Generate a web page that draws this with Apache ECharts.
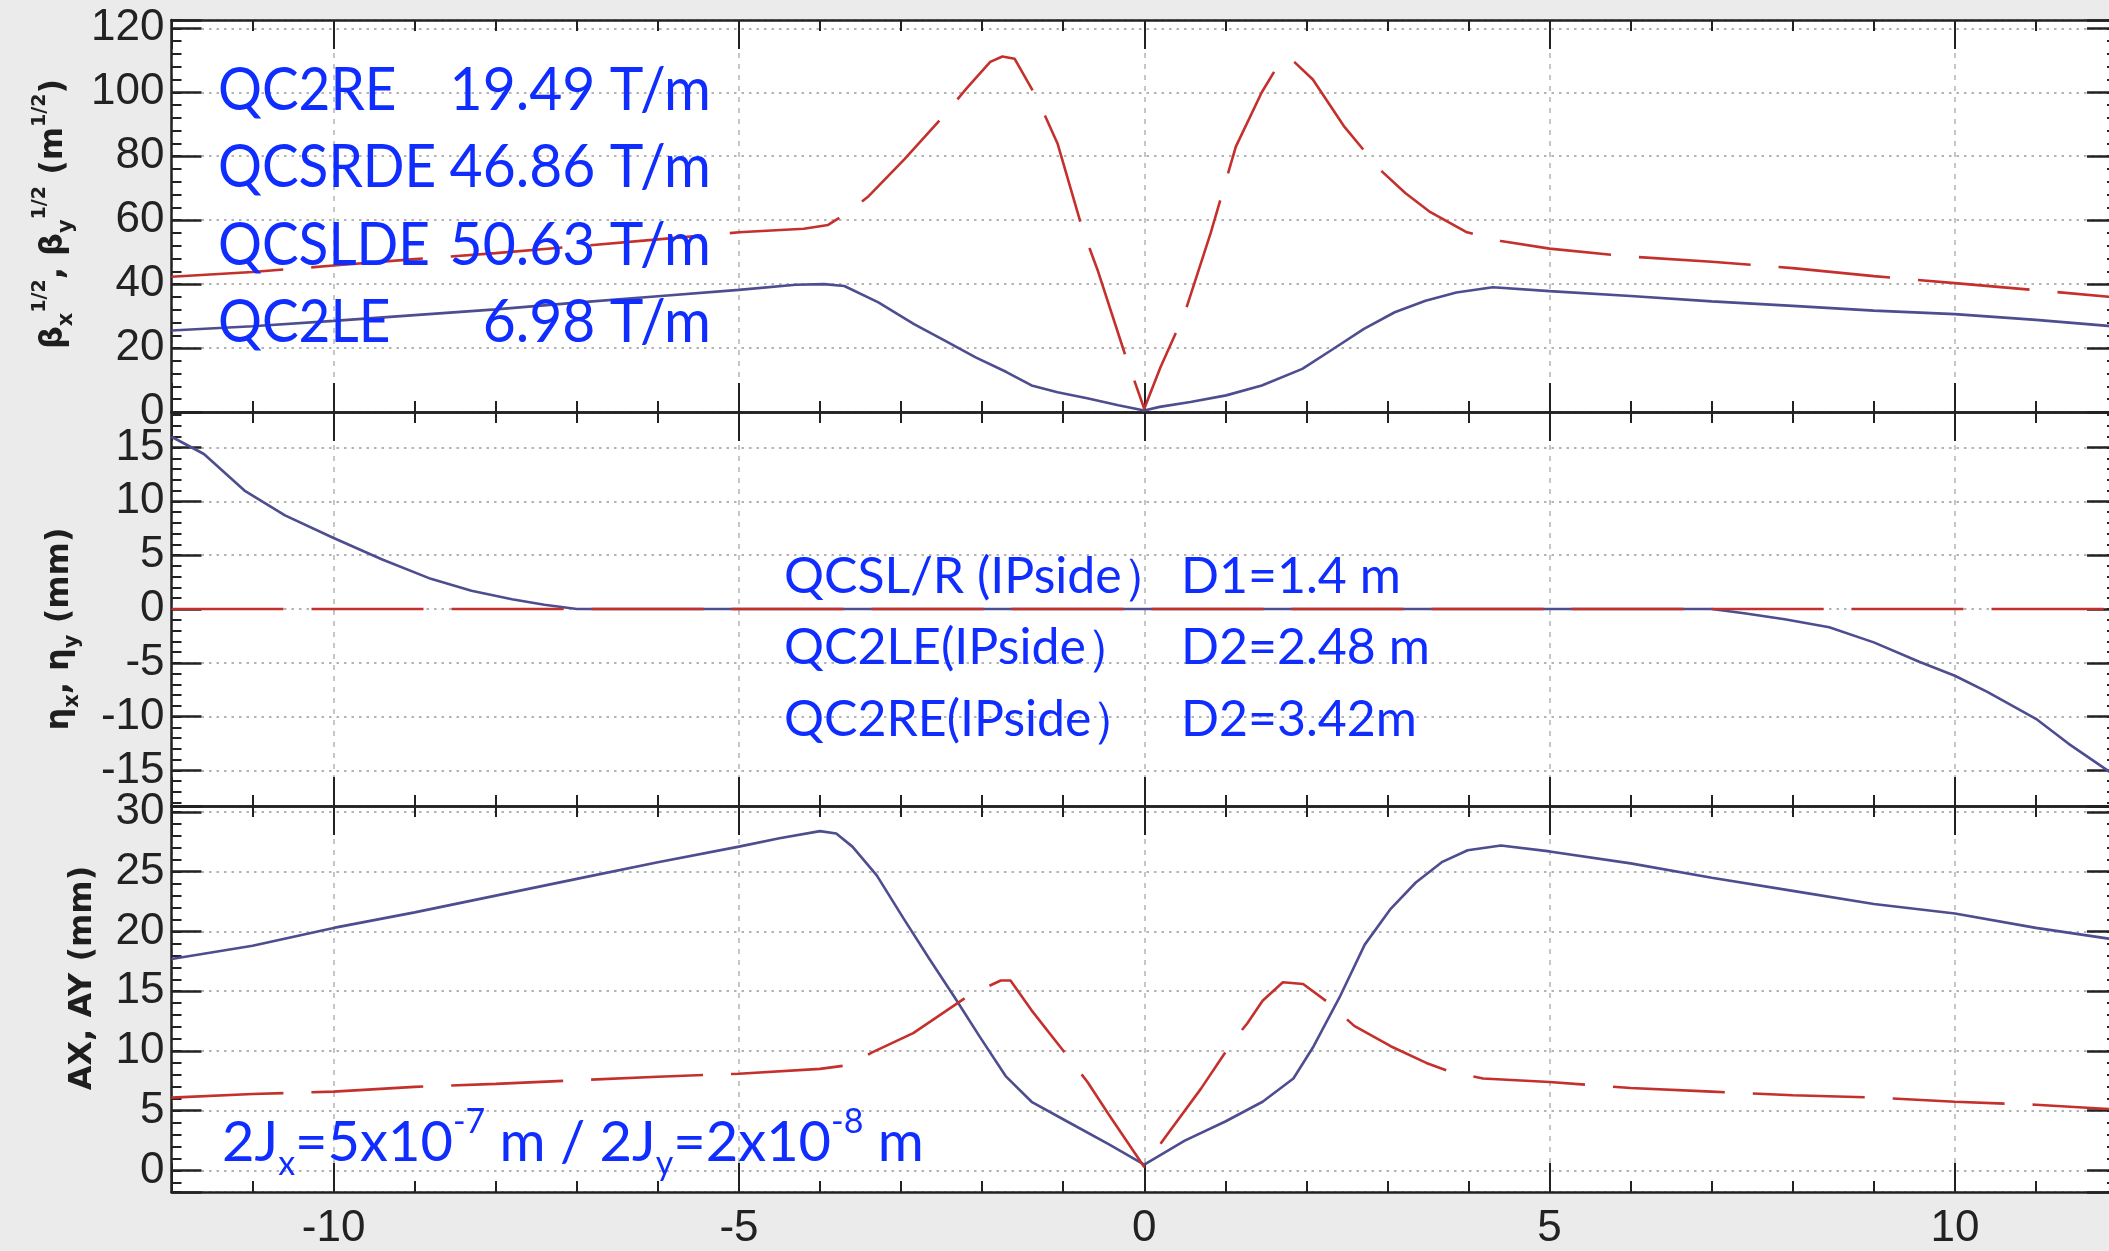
<!DOCTYPE html>
<html><head><meta charset="utf-8">
<script src="https://cdn.jsdelivr.net/npm/echarts@6/dist/echarts.min.js"></script>
<style>html,body{margin:0;padding:0;background:#ebebeb;overflow:hidden}#c{width:2120px;height:1251px}</style>
</head><body><div id="c"></div>
<script>
// ---------- data (s in m) ----------
const betaX_s = [-12,-11,-10,-9,-8,-7,-6,-5,-4.3,-3.95,-3.7,-3.28,-2.84,-2.46,-2.08,-1.7,-1.39,-1.07,-0.69,-0.32,0,0.19,0.57,1.01,1.45,1.95,2.33,2.71,3.09,3.47,3.85,4.3,5,6,7,8,9,10,11,12];
const betaX_v = [25.5,26.8,28.5,30.3,32.1,34.2,36.2,38.2,39.8,40.0,39.4,34.3,27.5,22.3,17.1,12.5,8.3,6.2,4.2,2.1,0.5,1.6,3.1,5.2,8.3,13.5,19.7,26,31.2,34.8,37.4,39.0,37.8,36.3,34.6,33.2,31.7,30.6,28.8,26.7];
const betaY_s = [-12,-11,-10,-9,-8,-7,-6,-5,-4.2,-3.9,-3.66,-3.4,-2.96,-2.46,-2.2,-1.9,-1.75,-1.6,-1.32,-1.07,-0.76,-0.57,-0.25,0,0.2,0.5,0.82,1.13,1.45,1.7,1.85,2.08,2.46,2.9,3.22,3.53,3.97,4.4,5,6,7,8,9,10,11,12];
const betaY_v = [42.3,43.8,45.8,47.8,49.7,51.8,54.0,56.2,57.3,58.5,62.3,67.5,79,93,101,109.5,111.2,110.5,98,84,57,44,19,1,14,31,56,83,100,110.5,109.5,104,89.5,76,68.5,62.5,56.3,53.5,51.1,48.6,47,45,42.5,40.3,38.1,35.8];
const etaX_s = [-12,-11.6,-11.1,-10.6,-10,-9.4,-8.8,-8.3,-7.8,-7.4,-7,0,7,7.4,7.9,8.45,9.0,9.56,10,10.4,11,11.4,12];
const etaX_v = [16.0,14.4,11.0,8.7,6.6,4.6,2.8,1.7,0.9,0.4,0,0,0,-0.4,-0.95,-1.7,-3.1,-4.9,-6.2,-7.7,-10.2,-12.5,-15.6];
const etaY_s = [-12,0,12];
const etaY_v = [0,0,0];
const ax_s = [-12,-11,-10,-9,-8,-7,-6,-5,-4.5,-4.0,-3.8,-3.6,-3.3,-2.97,-2.66,-2.34,-2.03,-1.71,-1.39,-0.95,-0.44,0,0.5,1.0,1.46,1.84,2.09,2.41,2.72,3.04,3.35,3.67,3.99,4.4,5,6,7,8,9,10,11,12];
const ax_v = [17.7,18.8,20.3,21.6,23.0,24.4,25.8,27.1,27.8,28.4,28.2,27.1,24.7,21.1,17.8,14.5,11.2,7.9,5.75,4.1,2.2,0.5,2.5,4.1,5.75,7.7,10.4,14.5,18.9,21.9,24.1,25.8,26.8,27.2,26.7,25.7,24.5,23.4,22.3,21.5,20.3,19.3];
const ay_s = [-12,-11,-10,-9,-8,-7,-6,-5,-4,-3.67,-3.35,-2.85,-2.15,-1.77,-1.65,-1.39,-0.95,-0.7,-0.44,0,0.25,0.7,1.08,1.27,1.46,1.71,1.96,2.28,2.59,3.04,3.48,3.8,4.18,5,6,7,8,9,10,11,12];
const ay_v = [6.1,6.4,6.6,7.0,7.25,7.55,7.85,8.1,8.5,8.8,9.9,11.5,14.7,15.9,15.9,13.4,9.6,7.4,4.7,0.3,2.7,6.85,10.7,12.3,14.2,15.75,15.6,14.0,12.1,10.4,9.0,8.2,7.7,7.4,6.9,6.6,6.3,6.1,5.75,5.5,5.1];

// axes: [min, max, major interval, minor interval]
const xRange = [-12, 12, 5, 1];
const yRanges = [[0, 122.6, 20, 4], [-18.3, 18.3, 5, 1], [-1.8, 30.5, 5, 1]];
const xTickLabels = [-10, -5, 0, 5, 10];

// annotation texts
const magnetNames = ['QC2RE', 'QCSRDE', 'QCSLDE', 'QC2LE'];
const magnetGrad = ['19.49 T/m', '46.86 T/m', '50.63 T/m', '6.98 T/m'];
const distNames = ['QCSL/R (IPside）', 'QC2LE(IPside）', 'QC2RE(IPside）'];
const distVals = ['D1=1.4 m', 'D2=2.48 m', 'D2=3.42m'];

// ---------- layout / style ----------
const grids = [
  {left: 171.5, top: 20, width: 1945.5, height: 392},
  {left: 171.5, top: 412, width: 1945.5, height: 394},
  {left: 171.5, top: 806, width: 1945.5, height: 393}
];
const AXC = '#222';
const BLUE = '#4d4d90';
const RED = '#c4302c';
const TXT = '#0f2dff';
const LBL = {fontFamily: 'Liberation Sans', fontSize: 44, color: '#222'};

function isMult(v, iv) { return Math.abs(v / iv - Math.round(v / iv)) < 1e-6; }

function xAxesFor(g, labels) {
  const base = {type: 'value', gridIndex: g, min: xRange[0], max: xRange[1], splitNumber: 5};
  const major = (pos, withLabels, split) => Object.assign({}, base, {
    position: pos, minInterval: xRange[2], maxInterval: xRange[2],
    axisLine: {show: true, onZero: false, lineStyle: {color: AXC, width: 2.5}},
    axisTick: {show: true, inside: true, length: 29, lineStyle: {color: AXC, width: 2}},
    axisLabel: withLabels ? Object.assign({show: true, margin: 15,
      formatter: v => (xTickLabels.indexOf(Math.round(v)) >= 0 && isMult(v, xRange[2])) ? String(v) : ''}, LBL) : {show: false},
    splitLine: {show: split, lineStyle: {color: '#b4b4b4', width: 1.5, type: [5, 6]}}
  });
  const minor = pos => Object.assign({}, base, {
    position: pos, minInterval: xRange[3], maxInterval: xRange[3],
    axisLine: {show: false, onZero: false},
    axisTick: {show: true, inside: true, length: 11, lineStyle: {color: AXC, width: 2}},
    axisLabel: {show: false}, splitLine: {show: false}
  });
  return [major('bottom', labels, true), minor('bottom'), major('top', false, false), minor('top')];
}
function yAxesFor(g) {
  const r = yRanges[g];
  const base = {type: 'value', gridIndex: g, min: r[0], max: r[1], splitNumber: 6};
  const major = (pos, withLabels, split) => Object.assign({}, base, {
    position: pos, minInterval: r[2], maxInterval: r[2],
    axisLine: {show: true, onZero: false, lineStyle: {color: AXC, width: 2.5}},
    axisTick: {show: true, inside: true, length: 30, lineStyle: {color: AXC, width: 2.5}},
    axisLabel: withLabels ? Object.assign({show: true, margin: 7,
      formatter: v => isMult(v, r[2]) ? String(Math.round(v)) : ''}, LBL) : {show: false},
    splitLine: {show: split, lineStyle: {color: '#b4b4b4', width: 1.8, type: [2.5, 5]}}
  });
  const minor = pos => Object.assign({}, base, {
    position: pos, minInterval: r[3], maxInterval: r[3],
    axisLine: {show: false, onZero: false},
    axisTick: {show: true, inside: true, length: 10, lineStyle: {color: AXC, width: 2}},
    axisLabel: {show: false}, splitLine: {show: false}
  });
  return [major('left', true, true), minor('left'), major('right', false, false), minor('right')];
}

const xAxis = [].concat(xAxesFor(0, false), xAxesFor(1, false), xAxesFor(2, true));
const yAxis = [].concat(yAxesFor(0), yAxesFor(1), yAxesFor(2));

function pts(s, v) { return s.map((x, i) => [x, v[i]]); }
function line(g, s, v, color, dashed, z) {
  return {type: 'line', xAxisIndex: g * 4, yAxisIndex: g * 4, data: pts(s, v), symbol: 'none',
    z: z, silent: true,
    lineStyle: {color: color, width: 2.6, type: dashed ? [112, 28] : 'solid'}};
}
const series = [
  line(0, betaX_s, betaX_v, BLUE, false, 2), line(0, betaY_s, betaY_v, RED, true, 3),
  line(1, etaX_s, etaX_v, BLUE, false, 2), line(1, etaY_s, etaY_v, RED, true, 3),
  line(2, ax_s, ax_v, BLUE, false, 2), line(2, ay_s, ay_v, RED, true, 3)
];

// ---------- text graphics ----------
const graphic = [];
const rowsY1 = [91, 168, 246, 323];
magnetNames.forEach((n, i) => {
  graphic.push({type: 'text', x: 218, y: rowsY1[i], z: 50, scaleX: 0.915,
    style: {text: n, fill: TXT, font: '60px Lato', align: 'left', verticalAlign: 'middle'}});
  graphic.push({type: 'text', x: 711, y: rowsY1[i], z: 50, scaleX: 0.95,
    style: {text: magnetGrad[i], fill: TXT, font: '60px Lato', align: 'right', verticalAlign: 'middle'}});
});
const rowsY2 = [577, 648, 720];
distNames.forEach((n, i) => {
  graphic.push({type: 'text', x: 784, y: rowsY2[i], z: 50,
    style: {text: n, fill: TXT, font: '50px Lato', align: 'left', verticalAlign: 'middle'}});
  graphic.push({type: 'text', x: 1181, y: rowsY2[i], z: 50,
    style: {text: distVals[i], fill: TXT, font: '50px Lato', align: 'left', verticalAlign: 'middle'}});
});
graphic.push({type: 'text', x: 222, y: 1143, z: 50,
  style: {text: '{a|2J}{s|x}{a|=5x10}{p|-7}{a| m / 2J}{s|y}{a|=2x10}{p|-8}{a| m}', align: 'left', verticalAlign: 'middle',
    rich: {
      a: {fontFamily: 'Lato', fontSize: 56, fill: TXT, color: TXT, lineHeight: 76, verticalAlign: 'middle'},
      s: {fontFamily: 'Lato', fontSize: 34, fill: TXT, color: TXT, lineHeight: 34, verticalAlign: 'bottom'},
      p: {fontFamily: 'Lato', fontSize: 34, fill: TXT, color: TXT, lineHeight: 34, verticalAlign: 'top'}
    }}});
const NC = '#1e1e1e';
const nameRich = {
  b: {fontFamily: 'DejaVu Sans', fontWeight: 'bold', fontSize: 32, fill: NC, color: NC, lineHeight: 46, verticalAlign: 'middle'},
  s: {fontFamily: 'DejaVu Sans', fontWeight: 'bold', fontSize: 21, fill: NC, color: NC, lineHeight: 21, verticalAlign: 'bottom'},
  p: {fontFamily: 'DejaVu Sans', fontWeight: 'bold', fontSize: 19, fill: NC, color: NC, lineHeight: 19, verticalAlign: 'top'}
};
graphic.push({type: 'text', x: 54, y: 214, rotation: Math.PI / 2, z: 50,
  style: {text: '{b|β}{s|x}{p|1/2}{b|, β}{s|y}{p|1/2}{b| (m}{p|1/2}{b|)}', align: 'center', verticalAlign: 'middle', rich: nameRich}});
graphic.push({type: 'text', x: 60, y: 629, rotation: Math.PI / 2, z: 50,
  style: {text: '{b|η}{s|x}{b|, η}{s|y}{b| (mm)}', align: 'center', verticalAlign: 'middle', rich: nameRich}});
graphic.push({type: 'text', x: 83, y: 978, rotation: Math.PI / 2, z: 50,
  style: {text: '{b|AX, AY (mm)}', align: 'center', verticalAlign: 'middle', rich: nameRich}});

const chart = echarts.init(document.getElementById('c'), null, {renderer: 'canvas'});
chart.setOption({
  backgroundColor: '#ebebeb',
  animation: false,
  grid: grids.map(g => Object.assign({show: true, backgroundColor: '#ffffff', borderWidth: 0}, g)),
  xAxis: xAxis,
  yAxis: yAxis,
  series: series,
  graphic: graphic
});
</script></body></html>
